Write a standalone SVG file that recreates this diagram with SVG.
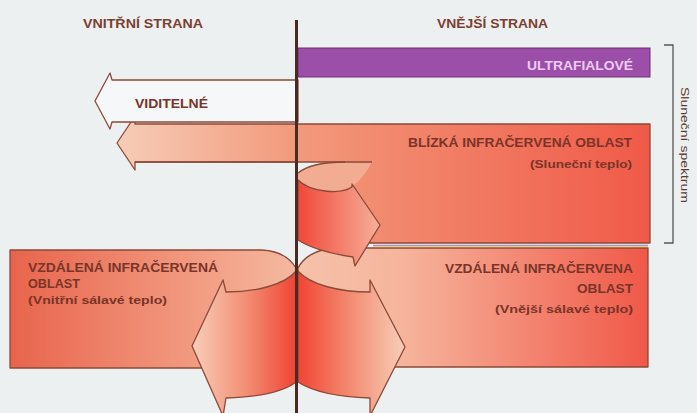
<svg xmlns="http://www.w3.org/2000/svg" width="697" height="413" viewBox="0 0 697 413">
<style>
.bg{fill:#edf0f0}
.st{stroke:#8a4a38;stroke-width:1.3;stroke-linejoin:round}
.ns{stroke:none}
.lbl{font-family:"Liberation Sans",Arial,sans-serif;font-weight:bold;fill:#7a3428;font-size:12.5px}
.sub{font-family:"Liberation Sans",Arial,sans-serif;font-weight:bold;fill:#7a3428;font-size:11px}
.hdr{font-family:"Liberation Sans",Arial,sans-serif;font-weight:bold;fill:#7a4030;font-size:12px}
</style>
<defs>
<linearGradient id="gNear" gradientUnits="userSpaceOnUse" x1="117" y1="0" x2="650" y2="0">
<stop offset="0" stop-color="#f6cdb8"/><stop offset="0.33" stop-color="#f29a7c"/><stop offset="1" stop-color="#f05a48"/>
</linearGradient>
<linearGradient id="gFarL" gradientUnits="userSpaceOnUse" x1="10" y1="0" x2="296" y2="0">
<stop offset="0" stop-color="#e8644c"/><stop offset="0.75" stop-color="#f3a48a"/><stop offset="1" stop-color="#f4b8a0"/>
</linearGradient>
<linearGradient id="gFarR" gradientUnits="userSpaceOnUse" x1="298" y1="0" x2="648" y2="0">
<stop offset="0" stop-color="#f6c2aa"/><stop offset="0.3" stop-color="#f6b49c"/><stop offset="1" stop-color="#f05848"/>
</linearGradient>
<linearGradient id="gArrL" gradientUnits="userSpaceOnUse" x1="192" y1="0" x2="296" y2="0">
<stop offset="0" stop-color="#f8ceb8"/><stop offset="0.55" stop-color="#f28a70"/><stop offset="1" stop-color="#f04434"/>
</linearGradient>
<linearGradient id="gArrR" gradientUnits="userSpaceOnUse" x1="298" y1="0" x2="405" y2="0">
<stop offset="0" stop-color="#f24434"/><stop offset="0.45" stop-color="#f2866c"/><stop offset="1" stop-color="#f8ceb8"/>
</linearGradient>
<linearGradient id="gCurl" gradientUnits="userSpaceOnUse" x1="298" y1="0" x2="380" y2="0">
<stop offset="0" stop-color="#f04838"/><stop offset="1" stop-color="#f6b09a"/>
</linearGradient>
</defs>
<rect class="bg" x="0" y="0" width="697" height="413"/>

<g id="headers">
<text class="hdr" x="83" y="28" textLength="120" lengthAdjust="spacingAndGlyphs">VNITŘNÍ STRANA</text>
<text class="hdr" x="437" y="28" textLength="111" lengthAdjust="spacingAndGlyphs">VNĚJŠÍ STRANA</text>
</g>

<g id="ultrafialove">
<rect x="298" y="48" width="352" height="29" fill="#9c4fa8" stroke="#6a3070" stroke-width="1"/>
<text x="527" y="70" textLength="106" lengthAdjust="spacingAndGlyphs" style="font-family:'Liberation Sans',Arial,sans-serif;font-weight:bold;font-size:12px;fill:#ecccf2">ULTRAFIALOVÉ</text>
</g>

<g id="blizka-infracervena">
<path class="st" fill="url(#gNear)" d="M298,124 H650 V243 H298 V162 H135 V170 L117,143 L135,116 V124 Z"/>
<text class="lbl" x="408" y="147" textLength="224" lengthAdjust="spacingAndGlyphs">BLÍZKÁ INFRAČERVENÁ OBLAST</text>
<text class="sub" x="530" y="168" textLength="102" lengthAdjust="spacingAndGlyphs">(Sluneční teplo)</text>
</g>

<g id="viditelne">
<path class="st" fill="#f6f7f8" d="M298,80 H112 L110,73 L95,101 L110,129 L112,122 H298 Z"/>
<text class="lbl" x="135" y="108" textLength="73" lengthAdjust="spacingAndGlyphs">VIDITELNÉ</text>
</g>

<g id="vzdalena-vnitrni">
<path class="st" fill="url(#gFarL)" d="M296,268 C290,258 278,251 262,250 H10 V368 H296 Z"/>
<text class="lbl" x="28" y="272" textLength="190" lengthAdjust="spacingAndGlyphs">VZDÁLENÁ INFRAČERVENÁ</text>
<text class="lbl" x="28" y="288" textLength="52" lengthAdjust="spacingAndGlyphs">OBLAST</text>
<text class="sub" x="28" y="304" textLength="139" lengthAdjust="spacingAndGlyphs">(Vnitřní sálavé teplo)</text>
</g>

<g id="vzdalena-vnejsi">
<path class="st" fill="url(#gFarR)" d="M298,268 C303,258 315,249 332,248 H648 V367 H298 Z"/>
<line x1="373" y1="245.3" x2="648" y2="245.3" stroke="#8a70b0" stroke-width="0.9"/>
<line x1="373" y1="246.6" x2="648" y2="246.6" stroke="#f0c060" stroke-width="0.8"/>
<text class="lbl" x="445" y="273" textLength="188" lengthAdjust="spacingAndGlyphs">VZDÁLENÁ INFRAČERVENA</text>
<text class="lbl" x="577" y="293" textLength="56" lengthAdjust="spacingAndGlyphs">OBLAST</text>
<text class="sub" x="495" y="313" textLength="138" lengthAdjust="spacingAndGlyphs">(Vnější sálavé teplo)</text>
</g>

<g id="connectors">
<!-- far-IR arrows leaving the wall -->
<path class="st" fill="url(#gArrL)" d="M296,271 C285,285 255,292 226,292 L223,280 L192,346 L223,416 L226,398 C255,397 282,393 296,382 Z"/>
<path class="st" fill="url(#gArrR)" d="M298,271 C310,285 340,292 370,292 L370,280 L405,347 L370,416 L370,398 C340,397 315,393 298,382 Z"/>
<!-- near-IR reflected curl -->
<path class="bg" d="M298,162 H345 C325,162 308,165 298,173 Z"/>
<path fill="#f2ac92" d="M298,173 C308,165 325,162 345,162 H372 C366,172 360,182 352,186 C340,194 310,192 298,180 Z"/>
<path class="st" fill="none" d="M298,173 C308,165 325,162 345,162"/>
<line class="st" x1="135" y1="162" x2="372" y2="162"/>
<path class="bg" d="M298,239 C310,247 330,254 345,256 L336,248 C318,249 304,257 298,268 Z"/>
<path class="st" fill="none" d="M298,268 C303,258 315,249 336,248"/>
<path class="st" fill="url(#gCurl)" d="M298,180 C310,192 340,195 352,187 L352,184 L380,225 L355,266 L353,257 C333,254 312,249 298,240 Z"/>
<!-- wall -->
<line x1="296.5" y1="20" x2="296.5" y2="413" stroke="#4a2a22" stroke-width="3"/>
</g>

<g id="slunecni-spektrum">
<path d="M664,45 H673 V243 H664" fill="none" stroke="#555" stroke-width="1.3"/>
<text x="681" y="145" transform="rotate(90 681 145)" text-anchor="middle" textLength="116" lengthAdjust="spacingAndGlyphs" style="font-family:'Liberation Sans',Arial,sans-serif;font-size:11px;fill:#5a3a30">Sluneční spektrum</text>
</g>
</svg>
